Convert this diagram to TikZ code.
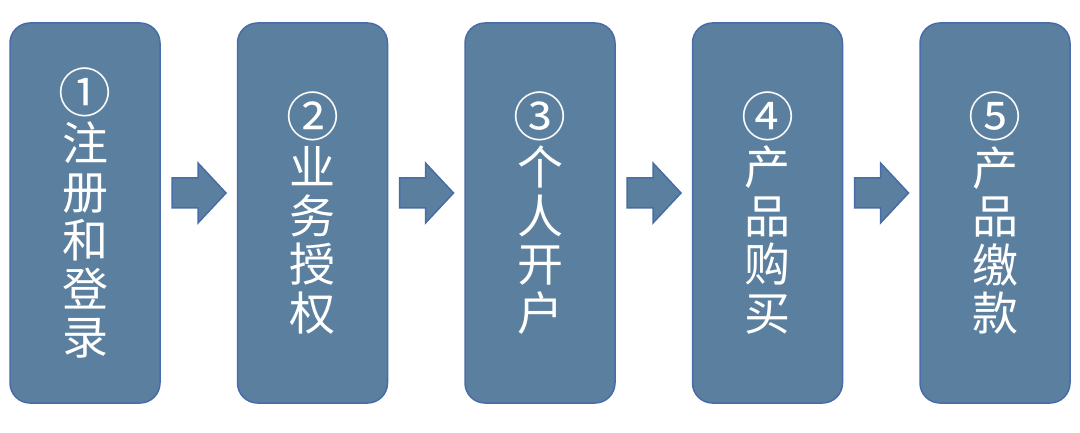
\documentclass[tikz,border=0pt]{standalone}
\usepackage{fontspec}
\usepackage{graphicx}
\newfontfamily\cjk{Noto Sans CJK SC}
\usetikzlibrary{calc}
\definecolor{boxfill}{RGB}{91,127,158}
\definecolor{boxline}{RGB}{72,108,168}
\newcommand{\cnum}[1]{\scalebox{1.15}{#1}}
\tikzset{
  stepbox/.style={draw=boxline, fill=boxfill, line width=1.5pt, rounded corners=20pt,
    minimum width=150pt, minimum height=380pt, inner sep=0pt, outer sep=0pt,
    text=white, font=\cjk\fontsize{46pt}{48.5pt}\selectfont, align=center},
  blockarrow/.style={draw=boxline, fill=boxfill, line width=1.5pt, line join=miter}
}
\begin{document}
\begin{tikzpicture}[x=1pt,y=-1pt]
\useasboundingbox (0,0) rectangle (1080,433);
\node[stepbox] (b1) at (85,213)    {\cnum{①}\\注\\册\\和\\登\\录};
\node[stepbox] (b2) at (312.5,213) {\cnum{②}\\业\\务\\授\\权};
\node[stepbox] (b3) at (540,213)   {\cnum{③}\\个\\人\\开\\户};
\node[stepbox] (b4) at (767.5,213) {\cnum{④}\\产\\品\\购\\买};
\node[stepbox] (b5) at (995,213)   {\cnum{⑤}\\产\\品\\缴\\款};
\foreach \a in {1,2,3,4}{
  \draw[blockarrow] ($(b\a.east)+(12,-35)$) -- ++(26,0) -- ++(0,-15) -- ++(28,30)
    -- ++(-28,30) -- ++(0,-15) -- ++(-26,0) -- cycle;
}
\end{tikzpicture}
\end{document}
